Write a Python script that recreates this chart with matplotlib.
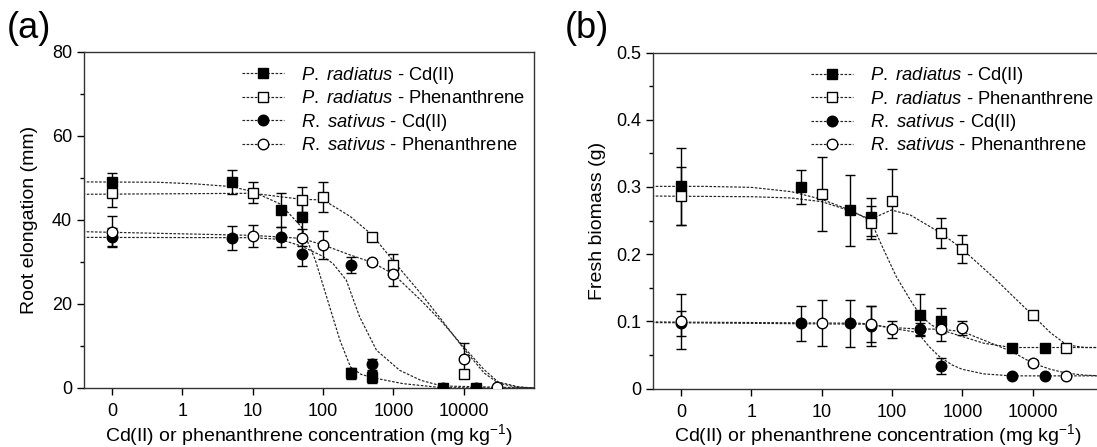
import numpy as np
import matplotlib
matplotlib.use('Agg')
import matplotlib.pyplot as plt
from matplotlib.lines import Line2D
from matplotlib.ticker import FixedLocator, NullLocator, FixedFormatter

plt.rcParams['font.family'] = ['Liberation Sans', 'DejaVu Sans']
plt.rcParams['mathtext.fontset'] = 'custom'
plt.rcParams['mathtext.rm'] = 'Liberation Sans'
plt.rcParams['mathtext.it'] = 'Liberation Sans:italic'

# ---------------- data ----------------
x_ticks = [0, 1, 10, 100, 1000, 10000]
x_tick_labels = ['0', '1', '10', '100', '1000', '10000']
ZERO_POS = 0.1  # where concentration 0 is drawn on the log axis

series_labels = [r'$\it{P.\ radiatus}$ - Cd(II)',
                 r'$\it{P.\ radiatus}$ - Phenanthrene',
                 r'$\it{R.\ sativus}$ - Cd(II)',
                 r'$\it{R.\ sativus}$ - Phenanthrene']

# Panel (a): root elongation (mm)
a_prcd_c = [0, 5, 25, 50, 250, 500, 5000, 15000]
a_prcd_y = [49.1, 49.1, 42.4, 40.7, 3.5, 2.6, 0.1, 0.1]
a_prcd_e = [2.0, 2.8, 4.0, 4.8, 1.3, 1.5, 0.3, 0.3]

a_prph_c = [0, 10, 50, 100, 500, 1000, 10000]
a_prph_y = [46.4, 46.5, 44.8, 45.4, 35.9, 29.4, 3.3]
a_prph_e = [3.3, 2.5, 3.0, 3.6, 1.0, 2.6, 1.0]

a_rscd_c = [0, 5, 25, 50, 250, 500, 5000, 15000]
a_rscd_y = [35.9, 35.7, 35.9, 32.0, 29.3, 5.6, 0.1, 0.1]
a_rscd_e = [2.2, 2.8, 2.4, 3.0, 2.0, 1.3, 0.3, 0.3]

a_rsph_c = [0, 10, 50, 100, 500, 1000, 10000, 30000]
a_rsph_y = [37.2, 36.2, 35.8, 34.0, 29.9, 27.1, 7.0, 0.2]
a_rsph_e = [3.7, 2.7, 2.0, 3.3, 0.6, 2.8, 3.8, 0.3]

# fitted curves, panel (a): log10 concentration and value
a_fit_prcd_logc = [-1.42, -0.36, 0.19, 0.70, 1.0, 1.39, 1.69, 1.89, 2.065, 2.24, 2.39, 2.54, 2.70, 3.14, 3.69, 5.0]
a_fit_prcd_val = [49.07, 48.99, 48.59, 47.95, 46.76, 43.82, 38.41, 30.46, 20.91, 11.37, 5.01, 3.26, 2.47, 1.03, 0.08, 0.0]

a_fit_prph_logc = [-1.42, 1.0, 1.69, 2.005, 2.39, 2.70, 3.0, 3.39, 3.69, 4.0, 4.29, 4.49, 4.74, 5.0]
a_fit_prph_val = [46.12, 46.36, 44.93, 44.77, 40.80, 36.42, 30.22, 22.50, 16.14, 9.38, 3.58, 1.19, 0.24, 0.0]

a_fit_rscd_logc = [-1.42, 1.0, 1.39, 1.69, 1.99, 2.14, 2.33, 2.52, 2.76, 3.09, 3.39, 3.69, 5.0]
a_fit_rscd_val = [35.86, 35.79, 35.39, 33.80, 31.41, 29.66, 25.69, 16.94, 8.99, 4.21, 1.83, 0.48, 0.0]

a_fit_rsph_logc = [-1.42, 1.0, 1.69, 2.005, 2.39, 2.70, 3.0, 3.39, 3.69, 4.0, 4.29, 4.49, 4.79, 5.0]
a_fit_rsph_val = [37.22, 36.34, 35.63, 34.04, 31.65, 29.90, 27.12, 20.91, 15.75, 9.78, 4.37, 1.43, 0.24, 0.0]

# Panel (b): fresh biomass (g)
b_prcd_c = [0, 5, 25, 50, 250, 500, 5000, 15000]
b_prcd_y = [0.301, 0.300, 0.265, 0.255, 0.110, 0.101, 0.061, 0.061]
b_prcd_e = [0.057, 0.025, 0.053, 0.028, 0.031, 0.019, 0.005, 0.005]

b_prph_c = [0, 10, 50, 100, 500, 1000, 10000, 30000]
b_prph_y = [0.286, 0.290, 0.247, 0.279, 0.231, 0.208, 0.109, 0.061]
b_prph_e = [0.043, 0.055, 0.025, 0.047, 0.022, 0.021, 0.004, 0.005]

b_rscd_c = [0, 5, 25, 50, 250, 500, 5000, 15000]
b_rscd_y = [0.097, 0.097, 0.097, 0.093, 0.088, 0.034, 0.019, 0.019]
b_rscd_e = [0.019, 0.026, 0.035, 0.030, 0.010, 0.012, 0.002, 0.002]

b_rsph_c = [0, 10, 50, 100, 500, 1000, 10000, 30000]
b_rsph_y = [0.100, 0.097, 0.096, 0.088, 0.088, 0.090, 0.038, 0.019]
b_rsph_e = [0.041, 0.034, 0.027, 0.013, 0.018, 0.010, 0.004, 0.003]

b_fit_prcd_logc = [-1.42, -0.68, 0.0, 0.567, 1.0, 1.398, 1.697, 1.861, 2.06, 2.259, 2.398, 2.557, 2.697, 3.0, 3.303, 3.701, 5.0]
b_fit_prcd_val = [0.3008, 0.3008, 0.2993, 0.2929, 0.2815, 0.2656, 0.2498, 0.2111, 0.1665, 0.1318, 0.1095, 0.0946, 0.0872, 0.0773, 0.0674, 0.0610, 0.0610]

b_fit_prph_logc = [-1.42, 0.0, 0.567, 1.0, 1.398, 1.692, 1.99, 2.259, 2.701, 2.985, 3.458, 3.701, 4.0, 4.249, 4.483, 4.746, 5.0]
b_fit_prph_val = [0.2864, 0.2854, 0.2835, 0.2780, 0.2646, 0.2517, 0.2656, 0.2582, 0.2309, 0.2086, 0.1640, 0.1392, 0.1090, 0.0833, 0.0649, 0.0610, 0.0610]

b_fit_rscd_logc = [-1.42, 1.692, 1.99, 2.204, 2.363, 2.527, 2.672, 2.851, 2.995, 3.299, 3.697, 5.0]
b_fit_rscd_val = [0.0981, 0.0956, 0.0897, 0.0862, 0.0833, 0.0624, 0.0476, 0.0352, 0.0287, 0.0218, 0.0188, 0.0188]

b_fit_rsph_logc = [-1.42, 1.56, 1.995, 2.358, 2.697, 3.0, 3.353, 3.701, 4.0, 4.249, 4.483, 4.746, 5.0]
b_fit_rsph_val = [0.0991, 0.0971, 0.0907, 0.0887, 0.0882, 0.0847, 0.0699, 0.0550, 0.0377, 0.0287, 0.0228, 0.0198, 0.0188]

# ---------------- styling ----------------
styles = [dict(marker='s', mfc='black'),
          dict(marker='s', mfc='white'),
          dict(marker='o', mfc='black'),
          dict(marker='o', mfc='white')]
MS = 7.6
CURVE_LS = (0, (2.2, 1.3))
CURVE_LW = 0.85
CURVE_C = '#222222'
FS_TICK = 13
FS_LABEL = 14
FS_LEG = 13.2


def xpos(c):
    c = np.asarray(c, dtype=float)
    return np.where(c == 0, ZERO_POS, c)


def draw_panel(ax, pts, fits, ylim, ymajor, yminor, yticklabels, ylabel, ylabelpad):
    for (lc, lv) in fits:
        ax.plot(10 ** np.asarray(lc), lv, ls=CURVE_LS, lw=CURVE_LW, color=CURVE_C, zorder=2)
    for (c, y, e), st in zip(pts, styles):
        ax.errorbar(xpos(c), y, yerr=e, fmt='none', ecolor='black', elinewidth=1.0,
                    capsize=3.6, capthick=1.0, zorder=3)
        ax.plot(xpos(c), y, ls='none', marker=st['marker'], ms=MS, mfc=st['mfc'],
                mec='black', mew=1.0, zorder=4)
    ax.set_xscale('log')
    ax.set_xlim(10 ** -1.4, 10 ** 5.0)
    ax.xaxis.set_major_locator(FixedLocator(xpos(x_ticks)))
    ax.xaxis.set_major_formatter(FixedFormatter(x_tick_labels))
    ax.xaxis.set_minor_locator(NullLocator())
    ax.set_ylim(*ylim)
    ax.yaxis.set_major_locator(FixedLocator(ymajor))
    ax.yaxis.set_major_formatter(FixedFormatter(yticklabels))
    ax.yaxis.set_minor_locator(FixedLocator(yminor))
    ax.tick_params(axis='both', which='major', direction='out', length=5, width=1.0,
                   labelsize=FS_TICK, top=False, right=False)
    ax.tick_params(axis='x', which='major', pad=6)
    ax.tick_params(axis='y', which='major', pad=3.5)
    ax.tick_params(axis='y', which='minor', direction='out', length=3, width=1.0, right=False)
    for s in ax.spines.values():
        s.set_linewidth(1.0)
        s.set_color('#333333')
    ax.set_xlabel(r'Cd(II) or phenanthrene concentration (mg kg$^{-1}$)', fontsize=FS_LABEL, labelpad=1)
    ax.set_ylabel(ylabel, fontsize=FS_LABEL, labelpad=ylabelpad)

    handles = [Line2D([], [], ls=CURVE_LS, lw=CURVE_LW, color=CURVE_C, marker=st['marker'],
                      ms=MS, mfc=st['mfc'], mec='black', mew=1.0) for st in styles]
    ax.legend(handles, series_labels, loc='upper left', bbox_to_anchor=(0.351, 0.962),
              frameon=False, fontsize=FS_LEG, handlelength=2.3, handletextpad=0.9,
              labelspacing=0.24, borderpad=0, borderaxespad=0)


fig = plt.figure(figsize=(10.97, 4.47), dpi=100)
ax_a = fig.add_axes([84 / 1097, 59 / 447, 450 / 1097, 336 / 447])
ax_b = fig.add_axes([653 / 1097, 58.5 / 447, 450 / 1097, 336 / 447])

draw_panel(ax_a,
           [(a_prcd_c, a_prcd_y, a_prcd_e), (a_prph_c, a_prph_y, a_prph_e),
            (a_rscd_c, a_rscd_y, a_rscd_e), (a_rsph_c, a_rsph_y, a_rsph_e)],
           [(a_fit_prcd_logc, a_fit_prcd_val), (a_fit_prph_logc, a_fit_prph_val),
            (a_fit_rscd_logc, a_fit_rscd_val), (a_fit_rsph_logc, a_fit_rsph_val)],
           (0, 80), [0, 20, 40, 60, 80], [10, 30, 50, 70],
           ['0', '20', '40', '60', '80'], 'Root elongation (mm)', 10)

draw_panel(ax_b,
           [(b_prcd_c, b_prcd_y, b_prcd_e), (b_prph_c, b_prph_y, b_prph_e),
            (b_rscd_c, b_rscd_y, b_rscd_e), (b_rsph_c, b_rsph_y, b_rsph_e)],
           [(b_fit_prcd_logc, b_fit_prcd_val), (b_fit_prph_logc, b_fit_prph_val),
            (b_fit_rscd_logc, b_fit_rscd_val), (b_fit_rsph_logc, b_fit_rsph_val)],
           (0, 0.5), [0, 0.1, 0.2, 0.3, 0.4, 0.5], [0.05, 0.15, 0.25, 0.35, 0.45],
           ['0', '0.1', '0.2', '0.3', '0.4', '0.5'], 'Fresh biomass (g)', 7)

fig.text(7 / 1097, 1 - 29 / 447, '(a)', fontsize=26, va='center', ha='left')
fig.text(565 / 1097, 1 - 29 / 447, '(b)', fontsize=26, va='center', ha='left')

fig.savefig('out.png', dpi=100)
